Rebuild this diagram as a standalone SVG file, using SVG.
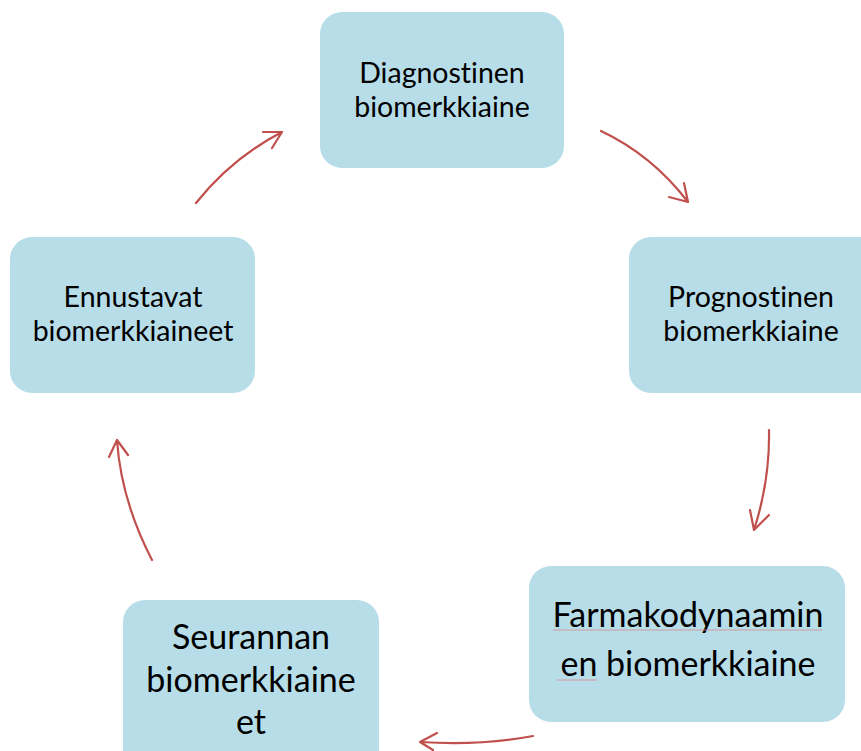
<svg xmlns="http://www.w3.org/2000/svg" width="861" height="751" viewBox="0 0 861 751">
<style>
.box{fill:#b7dde8;}
.t{font-family:Lato,"Open Sans","Noto Sans",sans-serif;fill:#000;text-anchor:middle;font-variant-ligatures:none;}
.s26{font-size:28.5px;}
.s32{font-size:34px;}
.c{fill:none;stroke:#c0504d;stroke-width:2.2;stroke-linecap:round;stroke-linejoin:round;}
</style>
<rect width="861" height="751" fill="#fff"/>
<g id="n-diagnostinen">
<rect class="box" x="320" y="12" width="244" height="156" rx="22"/>
<text class="t s26" x="442" y="83">Diagnostinen</text>
<text class="t s26" x="442" y="117">biomerkkiaine</text>
</g>
<g id="n-prognostinen">
<rect class="box" x="629" y="237" width="260" height="156" rx="22"/>
<text class="t s26" x="751" y="307">Prognostinen</text>
<text class="t s26" x="751" y="341">biomerkkiaine</text>
</g>
<g id="n-farmakodynaaminen">
<rect class="box" x="529" y="566" width="316" height="156" rx="22"/>
<text class="t s32" x="688" y="627">Farmakodynaamin</text>
<text class="t s32" x="688" y="676">en biomerkkiaine</text>
<path d="M553 630 L822 630 M557 680 L597 680" stroke="#d98a8a" stroke-width="0.8" fill="none"/>
</g>
<g id="n-seurannan">
<rect class="box" x="123" y="600" width="256" height="180" rx="22"/>
<text class="t s32" x="251" y="649">Seurannan</text>
<text class="t s32" x="251" y="692">biomerkkiaine</text>
<text class="t s32" x="251" y="734">et</text>
</g>
<g id="n-ennustavat">
<rect class="box" x="10" y="237" width="245" height="156" rx="22"/>
<text class="t s26" x="133" y="307">Ennustavat</text>
<text class="t s26" x="133" y="341">biomerkkiaineet</text>
</g>
<g id="connectors">
<path class="c" d="M196 203 Q232 158 282 132 M263 132 L282 132 L272 148"/>
<path class="c" d="M601 131 Q652 155 688 202 M669 197 L688 202 L684 183"/>
<path class="c" d="M769 430 Q770 480 754 530 M750 510 L754 530 L769 515"/>
<path class="c" d="M533 736 Q480 746 420 742 M437 733 L420 742 L433 750"/>
<path class="c" d="M152 560 Q121 500 117 440 M109 457 L117 440 L128 455"/>
</g>
</svg>
